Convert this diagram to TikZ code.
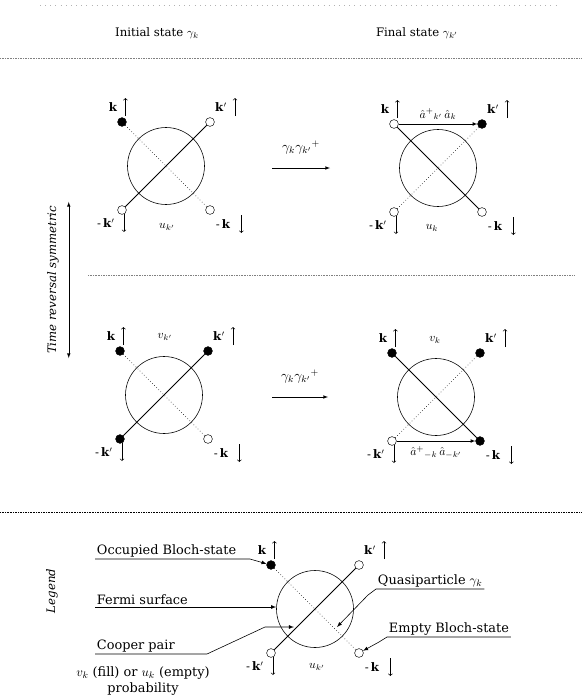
\documentclass[tikz,border=0pt]{standalone}
\usepackage{fontspec}
\setmainfont{DejaVu Serif}

\tikzset{
  fermi/.style={draw, circle, inner sep=0pt, minimum size=2.31cm, line width=0.5pt},
  occ/.style={draw, circle, fill=black, inner sep=0pt, minimum size=7.5pt},
  emp/.style={draw, circle, fill=white, inner sep=0pt, minimum size=7.5pt},
  pairline/.style={line width=0.7pt},
  vacline/.style={dotted, line width=0.5pt},
  spin/.style={inner sep=0pt},
  spinarrow/.style={->, line width=0.5pt},
  callout/.style={-latex, line width=0.5pt},
  lgtext/.style={inner sep=1.5pt, anchor=south west, font=\fontsize{11}{13}\selectfont},
  sepline/.style={densely dotted, gray},
}

\begin{document}
\begin{tikzpicture}[x=0.03cm,y=-0.03cm]
\useasboundingbox (0,0) rectangle (582,700);

% separators and headings
\draw[loosely dotted, gray!60] (40,5)--(560,5);
\draw[sepline] (0,58)--(582,58);
\draw[sepline] (88,275)--(575,275);
\draw[sepline, black] (0,512)--(582,512);
\node (hInit) at (157,33) {Initial state $\gamma_k$};
\node (hFin) at (417,33) {Final state $\gamma_{k'}$};

% the five pair diagrams
\foreach \n/\cx/\cy/\sa/\sb/\sc/\sd/\la/\lb in {A/166/166/occ/emp/emp/emp/vacline/pairline,
  B/438/168/emp/occ/emp/emp/pairline/vacline, C/164/395/occ/occ/occ/emp/vacline/pairline,
  D/436/397/occ/occ/emp/occ/pairline/vacline, L/315/609/occ/emp/emp/emp/vacline/pairline} {
  \node[fermi] (\n) at (\cx,\cy) {};
  \node[\sa] (\n-k) at (\cx-44,\cy-44) {};
  \node[\sb] (\n-kp) at (\cx+44,\cy-44) {};
  \node[\sc] (\n-mkp) at (\cx-44,\cy+44) {};
  \node[\sd] (\n-mk) at (\cx+44,\cy+44) {};
  \draw[\la] (\n-k)--(\n-mk);
  \draw[\lb] (\n-mkp)--(\n-kp);
  % spin labels
  \node[spin] (\n-lk) at ([shift={(-9,-15)}]\n-k) {\textbf{k}};
  \node[spin] (\n-lkp) at ([shift={(11,-15)}]\n-kp) {\textbf{k}$'$};
  \node[spin] (\n-lmkp) at ([shift={(-16,13)}]\n-mkp) {-\,\textbf{k}$'$};
  \node[spin] (\n-lmk) at ([shift={(13,14)}]\n-mk) {-\,\textbf{k}};
  \draw[spinarrow] ([shift={(8,9)}]\n-lk.east)--++(0,-18);
  \draw[spinarrow] ([shift={(8,9)}]\n-lkp.east)--++(0,-18);
  \draw[spinarrow] ([shift={(9,-9)}]\n-lmkp.east)--++(0,18);
  \draw[spinarrow] ([shift={(11,-9)}]\n-lmk.east)--++(0,18);
}
\node (A-amp) at (167,227) {$u_{k'}$};
\node (B-amp) at (432,228) {$u_{k}$};
\node (C-amp) at (165,337) {$v_{k'}$};
\node (D-amp) at (435,340) {$v_{k}$};
\node (L-amp) at (317,667) {$u_{k'}$};

% scattering operators
\draw[-latex] (B-k)--(B-kp) node[midway, above=0pt] {$\hat{a}{}^{+}{}_{k'}\,\hat{a}_{k}$};
\draw[-latex] (D-mkp)--(D-mk) node[midway, below=1pt] {$\hat{a}{}^{+}{}_{-k}\,\hat{a}_{-k'}$};

% transitions
\coordinate (t1a) at (272,168);
\coordinate (t1b) at (330,168);
\coordinate (t2a) at (272,397);
\coordinate (t2b) at (328,397);
\draw[-latex] (t1a)--(t1b) node[midway, above=8pt, font=\large] {$\gamma_k\gamma_{k'}{}^{+}$};
\draw[-latex] (t2a)--(t2b) node[midway, above=8pt, font=\large] {$\gamma_k\gamma_{k'}{}^{+}$};

% time reversal
\node[rotate=90, font=\itshape] (trs) at (53,280) {Time reversal symmetric};
\draw[latex-latex] ([xshift=5pt]trs.south east)--([xshift=5pt]trs.south west);

% legend
\node[rotate=90, font=\itshape] (lgd) at (52,591) {Legend};
\node[lgtext] (lOcc) at (95,559) {Occupied Bloch-state};
\node[lgtext] (lFermi) at (95,607) {Fermi surface};
\node[lgtext] (lCooper) at (95,654) {Cooper pair};
\node[align=center, font=\fontsize{11}{13}\selectfont] (lProb) at (143,681) {$v_k$ (fill) or $u_k$ (empty)\\probability};
\node[lgtext] (lQuasi) at (376,589) {Quasiparticle $\gamma_k$};
\node[lgtext] (lEmpty) at (387,637) {Empty Bloch-state};
\coordinate (cooperTip) at (294,627);
\coordinate (quasiTip) at (337,627);
\draw[callout] (lOcc.south west)--([xshift=10pt]lOcc.south east)--(L-k);
\draw[callout] (lFermi.south west)--(lFermi.south west -| L.west);
\draw[callout] (lCooper.south west)--++(112,0)--++(58,-27)--(cooperTip);
\draw[callout] (lQuasi.south east)--(lQuasi.south west)--++(-8,6)--(quasiTip);
\draw[callout] (lEmpty.south east)--(lEmpty.south west)--++(-8,5)--(L-mk);
\end{tikzpicture}
\end{document}
